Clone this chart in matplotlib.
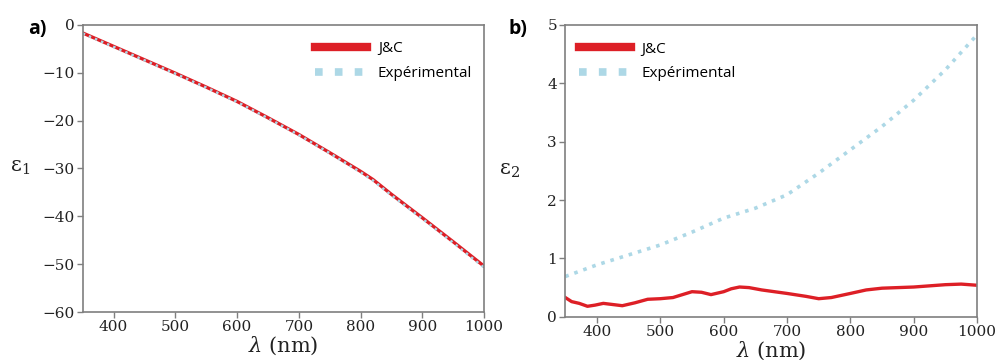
import matplotlib
matplotlib.use("Agg")
import matplotlib.pyplot as plt

plt.rcParams['font.family'] = 'DejaVu Serif'
plt.rcParams['mathtext.fontset'] = 'dejavuserif'

# panel a) epsilon_1
wl_a = [350, 400, 450, 500, 550, 600, 650, 700, 750, 800, 820, 850, 900, 950, 1000]
eps1_jc = [-1.7, -4.5, -7.3, -10.1, -13.0, -16.0, -19.4, -22.9, -26.7, -30.6, -32.3, -35.4, -40.3, -45.3, -50.4]
eps1_exp = [-1.8, -4.6, -7.4, -10.2, -13.1, -16.1, -19.5, -23.0, -26.8, -30.8, -32.5, -35.6, -40.5, -45.5, -50.7]

# panel b) epsilon_2
wl_jc = [350, 360, 372, 385, 397, 410, 425, 440, 460, 480, 500, 520, 535, 550, 565, 580, 600, 612, 625, 640, 660,
         700, 730, 750, 770, 800, 825, 850, 900, 950, 975, 1000]
eps2_jc = [0.33, 0.26, 0.23, 0.18, 0.20, 0.23, 0.21, 0.19, 0.24, 0.30, 0.31, 0.33, 0.38, 0.43, 0.42, 0.38, 0.43, 0.48,
           0.51, 0.50, 0.46, 0.40, 0.35, 0.31, 0.33, 0.40, 0.46, 0.49, 0.51, 0.55, 0.56, 0.54]
wl_exp = [350, 400, 450, 500, 550, 600, 650, 700, 750, 800, 850, 900, 950, 1000]
eps2_exp = [0.69, 0.89, 1.06, 1.23, 1.45, 1.69, 1.86, 2.09, 2.46, 2.86, 3.26, 3.71, 4.23, 4.83]

red = '#dd1f26'
blue = '#add8e6'
spine = '#7f7f7f'

fig = plt.figure(figsize=(9.97, 3.6), dpi=100)
ax1 = fig.add_axes([0.083, 0.133, 0.4025, 0.798])
ax2 = fig.add_axes([0.567, 0.12, 0.413, 0.811])


def style(ax):
    for s in ax.spines.values():
        s.set_color(spine)
        s.set_linewidth(1.2)
    ax.tick_params(colors='#222222', labelsize=11, length=4, width=1, color=spine, pad=2)
    ax.set_xlim(350, 1000)
    ax.set_xticks([400, 500, 600, 700, 800, 900, 1000])
    ax.set_xlabel(r'$\lambda$ (nm)', fontsize=15, color='#222222', labelpad=0)


def legend(ax, loc, anchor):
    leg = ax.legend(loc=loc, bbox_to_anchor=anchor, frameon=False, handlelength=3.4,
                    prop={'family': 'Open Sans', 'size': 11}, labelspacing=0.65, handletextpad=0.7)
    leg.get_lines()[0].set_linewidth(6)
    leg.get_lines()[1].set_linewidth(5.5)
    leg.get_lines()[1].set_dashes([1.0, 1.6])


ax1.plot(wl_a, eps1_jc, color=red, lw=2.4, label='J&C')
ax1.plot(wl_a, eps1_exp, color=blue, lw=1.8, ls=':', label='Expérimental')
ax1.set_ylim(-60, 0)
ax1.set_yticks(range(-60, 1, 10))
style(ax1)
ax1.set_ylabel('ε$_1$', fontsize=15, rotation=0, color='#222222')
ax1.yaxis.set_label_coords(-0.155, 0.47)
legend(ax1, 'upper right', (1.005, 0.99))
fig.text(0.028, 0.905, 'a)', fontsize=14, fontweight='bold', family='Open Sans')

ax2.plot(wl_jc, eps2_jc, color=red, lw=2.4, label='J&C')
ax2.plot(wl_exp, eps2_exp, color=blue, lw=2.6, ls=':', label='Expérimental')
ax2.set_ylim(0, 5)
ax2.set_yticks(range(0, 6))
style(ax2)
ax2.set_ylabel('ε$_2$', fontsize=15, rotation=0, color='#222222')
ax2.yaxis.set_label_coords(-0.135, 0.47)
legend(ax2, 'upper left', (0.0, 0.99))
fig.text(0.51, 0.905, 'b)', fontsize=14, fontweight='bold', family='Open Sans')

fig.savefig('out.png', dpi=100, facecolor='white')
